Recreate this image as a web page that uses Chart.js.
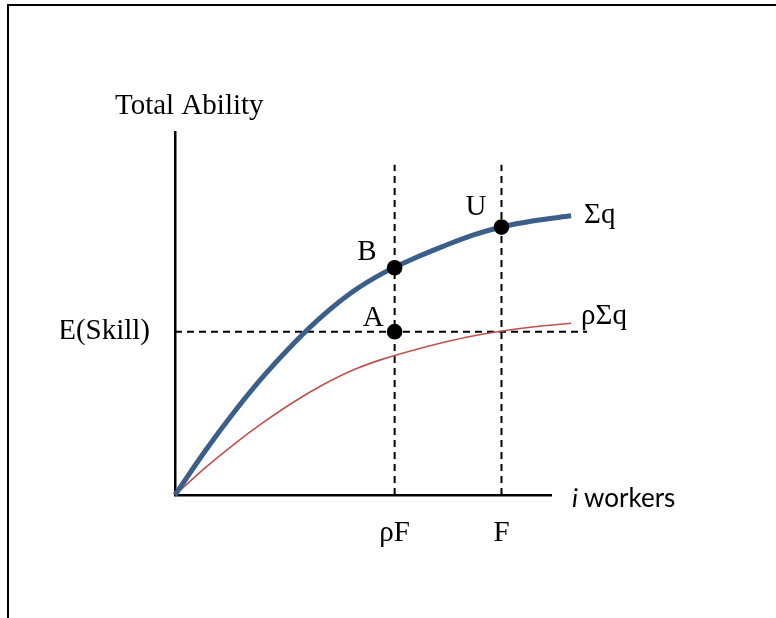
<!DOCTYPE html>
<html>
<head>
<meta charset="utf-8">
<script src="https://cdn.jsdelivr.net/npm/chart.js@4"></script>
<style>
  body { margin: 0; background: #fff; }
  #wrap { position: relative; width: 776px; height: 618px; overflow: hidden; }
  #frame {
    position: absolute; left: 7px; top: 4px; width: 800px; height: 700px;
    border-top: 2px solid #000; border-left: 2px solid #000;
  }
  canvas { position: absolute; left: 0; top: 0; }
</style>
</head>
<body>
<div id="wrap">
  <div id="frame"></div>
  <canvas id="chart" width="776" height="618"></canvas>
</div>
<script>
// values
const workers = [0, 8, 16, 24, 32, 40, 48, 56, 64, 72, 80, 88, 96, 106.4];
const sumQ = [0, 12.0, 23.0, 33.0, 41.9, 49.7, 56.2, 61.2, 65.1, 68.5, 71.6, 73.9, 75.5, 76.9];
const rhoSumQ = [0, 7.4, 14.1, 20.2, 25.7, 30.5, 34.5, 37.5, 39.9, 42.0, 43.8, 45.2, 46.3, 47.3];

const xTickValues = [59.0, 87.7];
const xTickLabels = ['ρF', 'F'];
const yTickValues = [45];
const yTickLabels = ['E(Skill)'];

const pointNames = ['B', 'U', 'A'];
const pointX = [59.0, 87.7, 59.0];
const pointY = [62.6, 73.8, 45];

const dashTop = 91;      // top of the vertical guide lines
const dashRight = 110.7; // right end of the E(Skill) guide line

const serif = "'Liberation Serif', 'Times New Roman', serif";

const toXY = (xs, ys) => xs.map((x, i) => ({ x: x, y: ys[i] }));

const guide = (data) => ({
    data: data,
    borderColor: '#000',
    borderWidth: 2,
    borderDash: [7, 5],
    pointRadius: 0,
    clip: false,
    order: 3
});

// text that is not a tick: axis captions, curve names, point letters
const labelPlugin = {
    id: 'labels',
    afterDatasetsDraw(chart) {
        const { ctx, chartArea } = chart;
        const xs = chart.scales.x, ys = chart.scales.y;
        ctx.save();
        ctx.fillStyle = '#000';
        ctx.textBaseline = 'alphabetic';
        ctx.font = '29px ' + serif;

        ctx.textAlign = 'left';
        ctx.fillText('Total Ability', chartArea.left - 60, chartArea.top - 18);

        const last = workers.length - 1;
        ctx.fillText('Σq', xs.getPixelForValue(workers[last]) + 13, ys.getPixelForValue(sumQ[last]) + 7);
        ctx.fillText('ρΣq', xs.getPixelForValue(workers[last]) + 10, ys.getPixelForValue(rhoSumQ[last]) + 1);

        const offs = [[-18, -8], [-15, -12], [-11, -6]];
        ctx.textAlign = 'right';
        pointNames.forEach((name, i) => {
            const px = xs.getPixelForValue(pointX[i]);
            const py = ys.getPixelForValue(pointY[i]);
            ctx.fillText(name, px + offs[i][0], py + offs[i][1]);
        });

        ctx.textAlign = 'left';
        ctx.font = 'italic 26px Lato, sans-serif';
        const ix = chartArea.right + 21, iy = chartArea.bottom + 12;
        ctx.fillText('i', ix, iy);
        const iw = ctx.measureText('i ').width;
        ctx.font = '26px Lato, sans-serif';
        ctx.fillText('workers', ix + iw, iy);
        ctx.restore();
    }
};

new Chart(document.getElementById('chart'), {
    type: 'line',
    data: {
        datasets: [
            {
                label: 'Σq',
                data: toXY(workers, sumQ),
                borderColor: '#3A5F8B',
                borderWidth: 5,
                cubicInterpolationMode: 'monotone',
                pointRadius: 0,
                clip: false,
                order: 1
            },
            {
                label: 'ρΣq',
                data: toXY(workers, rhoSumQ),
                borderColor: '#C0504D',
                borderWidth: 1.6,
                cubicInterpolationMode: 'monotone',
                pointRadius: 0,
                clip: false,
                order: 2
            },
            guide([{ x: 0, y: yTickValues[0] }, { x: dashRight, y: yTickValues[0] }]),
            guide([{ x: xTickValues[0], y: 0 }, { x: xTickValues[0], y: dashTop }]),
            guide([{ x: xTickValues[1], y: 0 }, { x: xTickValues[1], y: dashTop }]),
            {
                label: 'points',
                data: toXY(pointX, pointY),
                showLine: false,
                pointRadius: 7.8,
                pointBackgroundColor: '#000',
                pointBorderWidth: 0,
                clip: false,
                order: 0
            }
        ]
    },
    options: {
        responsive: false,
        animation: false,
        layout: { padding: { left: 61, right: 225, top: 132, bottom: 68 } },
        plugins: { legend: { display: false }, tooltip: { enabled: false } },
        scales: {
            x: {
                type: 'linear',
                min: 0,
                max: 101,
                grid: { display: false, drawTicks: false },
                border: { display: true, color: '#000', width: 2.5 },
                afterBuildTicks: (scale) => { scale.ticks = xTickValues.map(v => ({ value: v })); },
                afterFit: (scale) => { scale.height = 55; },
                ticks: {
                    padding: 21,
                    color: '#000',
                    font: { family: serif, size: 29 },
                    maxRotation: 0,
                    callback: (v, i) => xTickLabels[i]
                }
            },
            y: {
                type: 'linear',
                min: 0,
                max: 100,
                grid: { display: false, drawTicks: false },
                border: { display: true, color: '#000', width: 2.5 },
                afterBuildTicks: (scale) => { scale.ticks = yTickValues.map(v => ({ value: v })); },
                afterFit: (scale) => { scale.width = 114; },
                ticks: {
                    padding: 25,
                    color: '#000',
                    font: { family: serif, size: 29 },
                    callback: (v, i) => yTickLabels[i]
                }
            }
        }
    },
    plugins: [labelPlugin]
});
</script>
</body>
</html>
